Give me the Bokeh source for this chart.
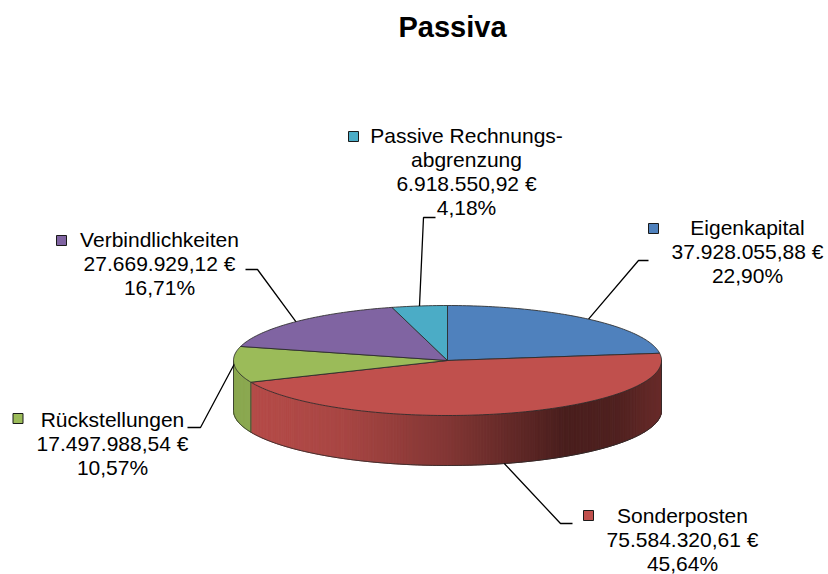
import numpy as np
from bokeh.plotting import figure
from bokeh.models import Range1d
from bokeh.core.properties import value
from bokeh.embed import file_html
from bokeh.resources import INLINE

# ---------------- data ----------------
title_text = "Passiva"
categories = ["Eigenkapital", "Sonderposten", "Rückstellungen",
              "Verbindlichkeiten", "Passive Rechnungsabgrenzung"]
label_lines = [["Eigenkapital"], ["Sonderposten"], ["Rückstellungen"],
               ["Verbindlichkeiten"], ["Passive Rechnungs-", "abgrenzung"]]
values = [37928055.88, 75584320.61, 17497988.54, 27669929.12, 6918550.92]
colors = ["#4F81BD", "#C0504D", "#9BBB59", "#8064A2", "#4BACC6"]

# ---------------- layout ----------------
W, H = 828, 574
CX, CY, RX, RY, DEPTH = 447.0, 360.0, 214.0, 55.0, 50.0
FONT = "Liberation Sans"
FS = "21px"
LINE_H = 24.0
TEXT_DY = -8.0      # baseline correction for svg text
TITLE_DY = -11.0
# label text centre x, first baseline y, legend square centre, leader elbow points, anchor on side?
label_pos = [
    dict(x=747, y=235, sq=(653, 228), elbow=[(648, 260), (638, 260)], side=False),
    dict(x=682, y=523, sq=(588, 515), elbow=[(572, 523), (560, 523)], side=True),
    dict(x=112, y=427, sq=(17.5, 418), elbow=[(187, 427), (200, 427)], side=False),
    dict(x=159, y=247, sq=(61, 240), elbow=[(245, 269), (257, 269)], side=False),
    dict(x=466, y=143, sq=(353, 136), elbow=[(435, 217), (423, 217)], side=False),
]


def de_num(v):
    s = f"{v:,.2f}"
    return s.replace(",", "X").replace(".", ",").replace("X", ".")


def pt(theta_deg, dy=0.0):
    t = np.radians(theta_deg)
    return CX + RX * np.cos(t), CY - RY * np.sin(t) + dy


def hex_to_rgb(h):
    h = h.lstrip("#")
    return tuple(int(h[i:i + 2], 16) for i in (0, 2, 4))


def shade(h, f):
    r, g, b = hex_to_rgb(h)
    return "#%02x%02x%02x" % tuple(int(max(0, min(255, c * f))) for c in (r, g, b))


total = float(sum(values))
fracs = [v / total for v in values]
cum = np.concatenate([[0.0], np.cumsum(fracs)])
starts = 90.0 - 360.0 * cum[:-1]
ends = 90.0 - 360.0 * cum[1:]

p = figure(width=W, height=H, x_range=Range1d(0, W), y_range=Range1d(H, 0),
           output_backend="svg", toolbar_location=None, min_border=0,
           x_axis_type=None, y_axis_type=None)
p.grid.visible = False
p.outline_line_color = None
p.background_fill_color = "white"

# ---------------- side (front rim) ----------------
shade_t = [-1.0, -0.5, 0.0, 0.55, 0.8, 1.0]
shade_f = [0.96, 0.88, 0.68, 0.38, 0.42, 0.55]
sx, sy, sc = [], [], []
for i in range(len(values)):
    a, b = starts[i], ends[i]
    lo, hi = max(b, -180.0), min(a, 0.0)
    if lo >= hi:
        continue
    n = max(2, int((hi - lo) / 0.8))
    angs = np.linspace(hi, lo, n + 1)
    for k in range(n):
        t1, t2 = angs[k], angs[k + 1]
        x1, y1 = pt(t1)
        x2, y2 = pt(t2)
        tm = np.cos(np.radians((t1 + t2) / 2))
        f = float(np.interp(tm, shade_t, shade_f))
        if colors[i] != "#C0504D":
            f = 0.9
        c = shade(colors[i], f)
        sx.append([x1, x2, x2, x1])
        sy.append([y1, y2, y2 + DEPTH, y1 + DEPTH])
        sc.append(c)
p.patches(sx, sy, fill_color=sc, line_color=sc, line_width=1)

# rim outlines
ba = np.linspace(0, -180, 181)
bx = [pt(a, DEPTH)[0] for a in ba]
by = [pt(a, DEPTH)[1] for a in ba]
p.line(bx, by, line_color="#2a2a2a", line_width=1, line_alpha=0.8)
edge_angles = [0.0, -180.0] + [e for e in ends if -180.0 < e < 0.0]
for a in edge_angles:
    x0, y0 = pt(a)
    p.line([x0, x0], [y0, y0 + DEPTH], line_color="#2a2a2a", line_width=1, line_alpha=0.8)

# ---------------- top surface ----------------
txs, tys = [], []
for i in range(len(values)):
    n = max(4, int(abs(starts[i] - ends[i]) / 1.0))
    angs = np.linspace(starts[i], ends[i], n + 1)
    xs = [CX] + [pt(a)[0] for a in angs]
    ys = [CY] + [pt(a)[1] for a in angs]
    txs.append(xs)
    tys.append(ys)
p.patches(txs, tys, fill_color=colors, line_color="#2a2a2a", line_width=1, line_alpha=0.85)

# ---------------- title ----------------
p.text(x=[452], y=[37 + TITLE_DY], text=[title_text], text_font=value(FONT), text_font_size="29px",
       text_font_style="bold", text_align="center", text_baseline="alphabetic", text_color="black")

# ---------------- labels ----------------
for i in range(len(values)):
    lp = label_pos[i]
    lines = label_lines[i] + [de_num(values[i]) + " €", f"{fracs[i] * 100:.2f}".replace(".", ",") + "%"]
    ys = [lp["y"] + TEXT_DY + k * LINE_H for k in range(len(lines))]
    p.text(x=[lp["x"]] * len(lines), y=ys, text=lines, text_font=value(FONT), text_font_size=FS,
           text_align="center", text_baseline="alphabetic", text_color="black")
    p.scatter([lp["sq"][0]], [lp["sq"][1]], marker="square", size=10, fill_color=colors[i],
              line_color="#1a1a1a", line_width=1)
    mid = (starts[i] + ends[i]) / 2.0
    ax, ay = pt(mid, DEPTH if lp["side"] else 0.0)
    lx = [lp["elbow"][0][0], lp["elbow"][1][0], ax]
    ly = [lp["elbow"][0][1], lp["elbow"][1][1], ay]
    p.line(lx, ly, line_color="black", line_width=1.3)

open("out.html", "w").write(file_html(p, INLINE))
